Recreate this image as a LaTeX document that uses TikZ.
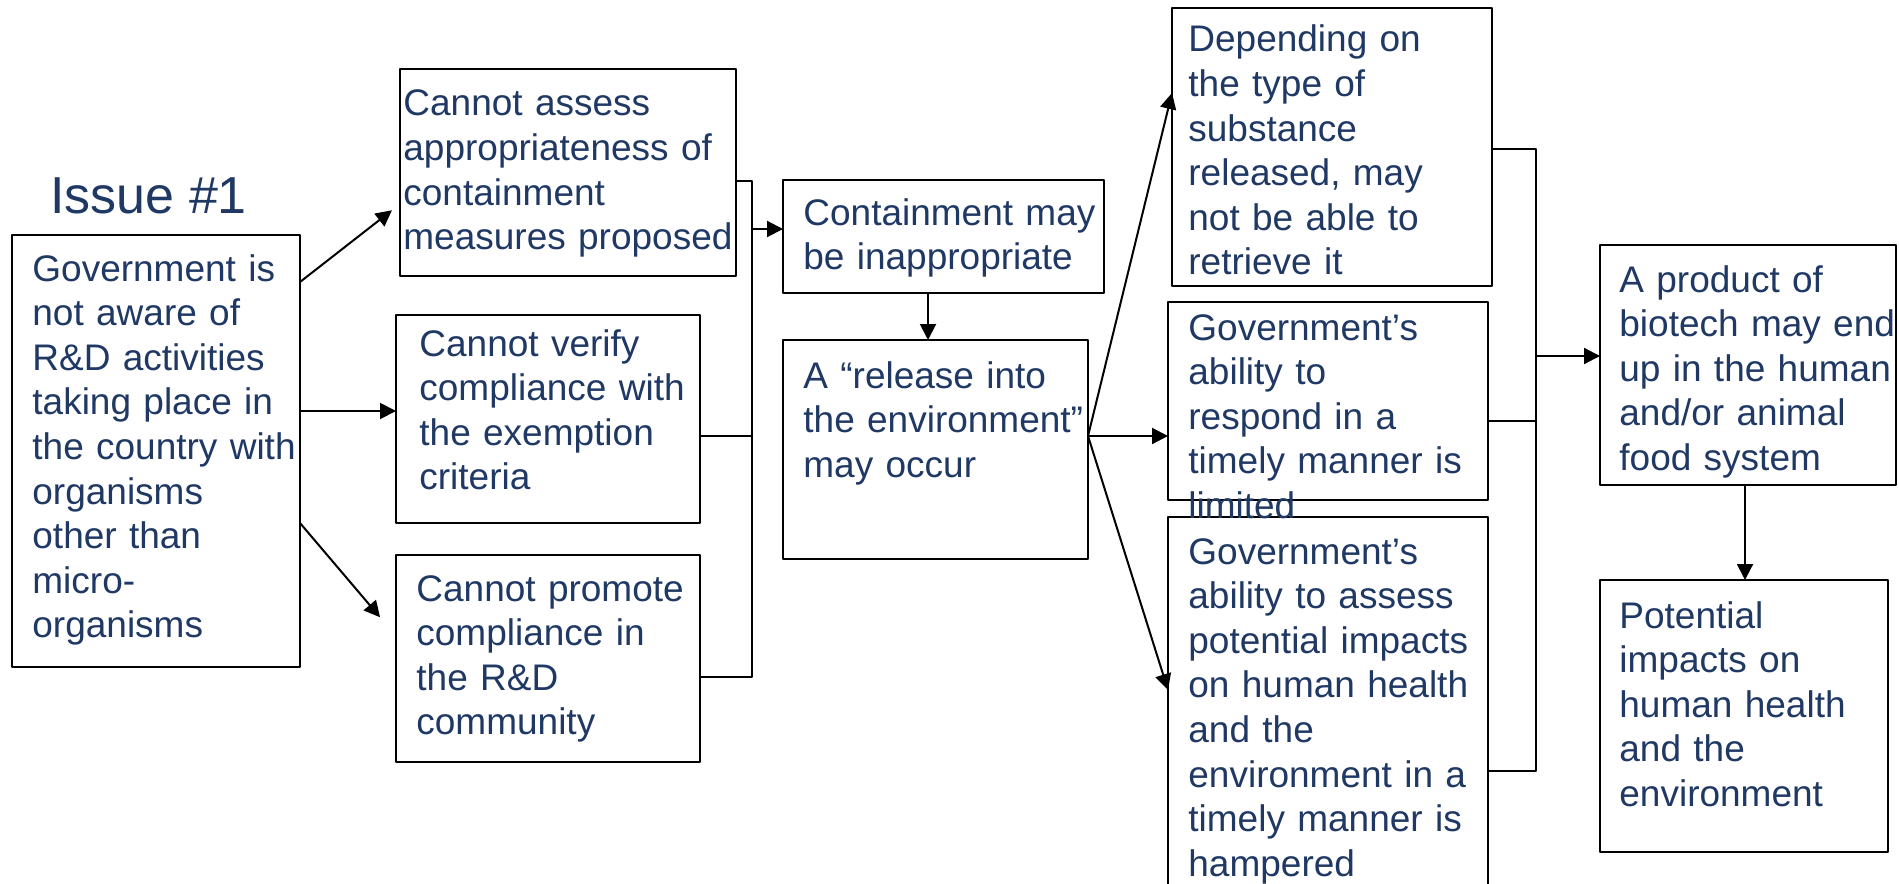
\documentclass[tikz,border=0pt]{standalone}
\usepackage{fontspec}
\setmainfont{Liberation Sans}
\usetikzlibrary{arrows.meta}
\definecolor{txtblue}{RGB}{31,56,100}
\newcommand{\boxfont}{\fontsize{18.5}{22.3}\selectfont}
\newcommand{\issuefont}{\fontsize{26}{30}\selectfont}

\begin{document}
\begin{tikzpicture}[line cap=round,line join=round,x=0.5pt,y=-0.5pt,
  box/.style={draw=black,line width=1.15pt,anchor=north west,outer sep=0pt,inner sep=0pt},
  txt/.style={anchor=base west,inner sep=0pt,text width=200pt,align=left,text=txtblue,font=\boxfont},
  link/.style={line width=1pt},
  >={Triangle[length=8pt,width=8pt]}]
\useasboundingbox (0,0) rectangle (1899,883);
\clip (0,0) rectangle (1899,883);

\node[text=txtblue,font=\issuefont,anchor=base west,inner sep=0pt] (issue) at (50,213) {Issue \#1};

% boxes
\node[box,minimum width=144pt,minimum height=216pt] (gov) at (12,235) {};
\node[box,minimum width=168pt,minimum height=103.5pt] (assess) at (400,69) {};
\node[box,minimum width=152pt,minimum height=104pt] (verify) at (396,315) {};
\node[box,minimum width=152pt,minimum height=103.5pt] (promote) at (396,555) {};
\node[box,minimum width=160.5pt,minimum height=56.5pt] (contain) at (783,180) {};
\node[box,minimum width=152.5pt,minimum height=109.5pt] (release) at (783,340) {};
\node[box,minimum width=160pt,minimum height=139pt] (depend) at (1172,8) {};
\node[box,minimum width=160pt,minimum height=99pt] (respond) at (1168,302) {};
\node[box,minimum width=160pt,minimum height=191.5pt] (gassess) at (1168,517) {};
\node[box,minimum width=148pt,minimum height=120pt] (product) at (1600,245) {};
\node[box,minimum width=144pt,minimum height=136pt] (potential) at (1600,580) {};

% texts
\node[txt] (govtext) at (32,281) {Government is\\not aware of\\R\&D activities\\taking place in\\the country with\\organisms\\other than\\micro-\\organisms};
\node[txt] (assesstext) at (403,116) {Cannot assess\\appropriateness of\\containment\\measures proposed};
\node[txt] (verifytext) at (419,356) {Cannot verify\\compliance with\\the exemption\\criteria};
\node[txt] (promotetext) at (416,601) {Cannot promote\\compliance in\\the R\&D\\community};
\node[txt] (containtext) at (803,225) {Containment may\\be inappropriate};
\node[txt] (releasetext) at (803,388) {A ``release into\\the environment''\\may occur};
\node[txt] (dependtext) at (1188,52) {Depending on\\the type of\\substance\\released, may\\not be able to\\retrieve it};
\node[txt] (respondtext) at (1188,340) {Government's\\ability to\\respond in a\\timely manner is\\limited};
\node[txt] (gassesstext) at (1188,564) {Government's\\ability to assess\\potential impacts\\on human health\\and the\\environment in a\\timely manner is\\hampered};
\node[txt] (producttext) at (1619,292) {A product of\\biotech may end\\up in the human\\and/or animal\\food system};
\node[txt] (potentialtext) at (1619,628) {Potential\\impacts on\\human health\\and the\\environment};

% issue box to the three gaps
\draw[->,link,shorten >=5.1pt] (gov.east |- 0,282) -- (assess.west |- 0,204);
\draw[->,link] (gov.east |- 0,411) -- (verify.west |- 0,411);
\draw[->,link,shorten >=12.3pt] (gov.east |- 0,523) -- (promote.west |- 0,636);

% first bracket
\coordinate (bus1) at (752,0);
\draw[link] (assess.east |- 0,181) -- (bus1 |- 0,181) -- (bus1 |- 0,677) -- (promote.east |- 0,677);
\draw[link] (verify.east |- 0,436) -- (bus1 |- 0,436);
\draw[->,link] (bus1 |- 0,229) -- (contain.west |- 0,229);
\draw[->,link] (contain.south -| 928,0) -- (release.north -| 928,0);

% release fans out
\draw[->,link] (release.east |- 0,436) -- (depend.west |- 0,93);
\draw[->,link] (release.east |- 0,436) -- (respond.west |- 0,436);
\draw[->,link] (release.east |- 0,436) -- (gassess.west |- 0,690);

% second bracket
\coordinate (bus2) at (1536,0);
\draw[link] (depend.east |- 0,149) -- (bus2 |- 0,149) -- (bus2 |- 0,771) -- (gassess.east |- 0,771);
\draw[link] (respond.east |- 0,421) -- (bus2 |- 0,421);
\draw[->,link] (bus2 |- 0,356) -- (product.west |- 0,356);
\draw[->,link] (product.south -| 1745,0) -- (potential.north -| 1745,0);

\end{tikzpicture}
\end{document}
